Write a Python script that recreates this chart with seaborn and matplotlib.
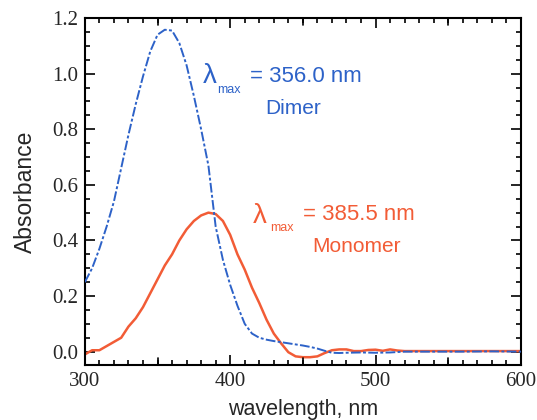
import numpy as np
import pandas as pd
import matplotlib
matplotlib.use("Agg")
import matplotlib.pyplot as plt
from matplotlib.ticker import MultipleLocator, FixedLocator
import seaborn as sns

# Absorption spectra (wavelength in nm)
dimer_wl = [300, 305, 310, 315, 320, 325, 330, 335, 340, 345, 350, 355, 360,
            365, 370, 375, 380, 385, 390, 395, 400, 405, 410, 415, 420, 425,
            430, 435, 440, 445, 450, 455, 460, 465, 470, 475, 480, 490, 500,
            510, 520, 540, 560, 580, 600]
dimer_abs = [0.25, 0.30, 0.37, 0.45, 0.54, 0.66, 0.78, 0.89, 0.99, 1.08, 1.14,
             1.158, 1.155, 1.11, 1.03, 0.92, 0.80, 0.67, 0.45, 0.33, 0.24,
             0.165, 0.10, 0.065, 0.05, 0.043, 0.038, 0.034, 0.030, 0.026,
             0.022, 0.017, 0.011, 0.003, -0.004, -0.005, -0.004, -0.003,
             -0.004, -0.003, 0.0, 0.0, 0.0, 0.001, 0.0]

monomer_wl = [300, 305, 310, 315, 320, 325, 330, 335, 340, 345, 350, 355, 360,
              365, 370, 375, 380, 385, 390, 395, 400, 405, 410, 415, 420, 425,
              430, 435, 440, 445, 450, 455, 460, 465, 470, 475, 480, 485, 490,
              495, 500, 505, 510, 515, 520, 540, 560, 580, 600]
monomer_abs = [-0.01, 0.005, 0.005, 0.02, 0.035, 0.05, 0.09, 0.12, 0.16, 0.21,
               0.26, 0.31, 0.35, 0.40, 0.44, 0.47, 0.49, 0.50, 0.495, 0.47,
               0.42, 0.35, 0.295, 0.23, 0.175, 0.115, 0.065, 0.03, -0.002,
               -0.017, -0.02, -0.02, -0.017, -0.005, 0.005, 0.008, 0.008,
               0.002, 0.002, 0.006, 0.007, 0.003, 0.008, 0.004, 0.002, 0.002,
               0.002, 0.002, 0.002]

dimer_peak = 356.0
monomer_peak = 385.5

x_ticks = [300, 400, 500, 600]
y_ticks = [0.0, 0.2, 0.4, 0.6, 0.8, 1.0, 1.2]

BLUE = "#2d62c8"
ORANGE = "#f25c36"

sns.set_theme(style="ticks")
plt.rcParams["font.family"] = ["Liberation Sans", "DejaVu Sans"]

df = pd.concat([
    pd.DataFrame({"wavelength": dimer_wl, "absorbance": dimer_abs, "form": "Dimer"}),
    pd.DataFrame({"wavelength": monomer_wl, "absorbance": monomer_abs, "form": "Monomer"}),
])

fig = plt.figure(figsize=(5.37, 4.20), dpi=100)
ax = fig.add_axes([0.158, 0.131, 0.812, 0.826])

sns.lineplot(data=df[df.form == "Monomer"], x="wavelength", y="absorbance",
             color=ORANGE, lw=1.8, ax=ax, zorder=2)
sns.lineplot(data=df[df.form == "Dimer"], x="wavelength", y="absorbance",
             color=BLUE, lw=1.4, ax=ax, zorder=3)
ax.lines[-1].set_dashes([5, 1.2, 1.5, 1.2])

ax.set_xlim(300, 600)
ax.set_ylim(-0.048, 1.2)

ax.xaxis.set_major_locator(FixedLocator(x_ticks))
ax.xaxis.set_minor_locator(MultipleLocator(10))
ax.yaxis.set_major_locator(FixedLocator(y_ticks))
ax.yaxis.set_minor_locator(MultipleLocator(0.05))
ax.set_xticklabels([str(v) for v in x_ticks])
ax.set_yticklabels([f"{v:.1f}" for v in y_ticks])

# secondary "major" marks at 350/450/550 on the wavelength axis
for xv in [350, 450, 550]:
    ax.plot([xv, xv], [-0.048, -0.048 + 0.025], color="black", lw=1.2,
            clip_on=False, zorder=4)
    ax.plot([xv, xv], [1.2, 1.2 - 0.025], color="black", lw=1.2,
            clip_on=False, zorder=4)

ax.tick_params(which="both", direction="in", top=True, right=True,
               color="black", width=1.2)
ax.tick_params(which="major", length=7, labelsize=15, pad=5)
ax.tick_params(which="minor", length=3.5)
for lab in ax.get_xticklabels() + ax.get_yticklabels():
    lab.set_family(["Liberation Serif", "DejaVu Serif"])

for sp in ax.spines.values():
    sp.set_linewidth(1.5)
    sp.set_color("black")

ax.set_xlabel("wavelength, nm", fontsize=15.5, labelpad=6)
ax.set_ylabel("Absorbance", fontsize=16.5, labelpad=11)

# peak annotations
ax.text(381.0, 0.99, "λ", color=BLUE, fontsize=20, ha="left", va="center")
ax.text(391.3, 0.94, "max", color=BLUE, fontsize=9, ha="left", va="center")
ax.text(413.5, 0.99, f"= {dimer_peak:.1f} nm", color=BLUE, fontsize=16,
        ha="left", va="center")
ax.text(423.8, 0.875, "Dimer", color=BLUE, fontsize=15, ha="left", va="center")

ax.text(415.6, 0.487, "λ", color=ORANGE, fontsize=20, ha="left", va="center")
ax.text(427.3, 0.443, "max", color=ORANGE, fontsize=9, ha="left", va="center")
ax.text(450.0, 0.492, f"= {monomer_peak:.1f} nm", color=ORANGE, fontsize=16,
        ha="left", va="center")
ax.text(456.2, 0.377, "Monomer", color=ORANGE, fontsize=15, ha="left", va="center")

fig.savefig("out.png", dpi=100)
